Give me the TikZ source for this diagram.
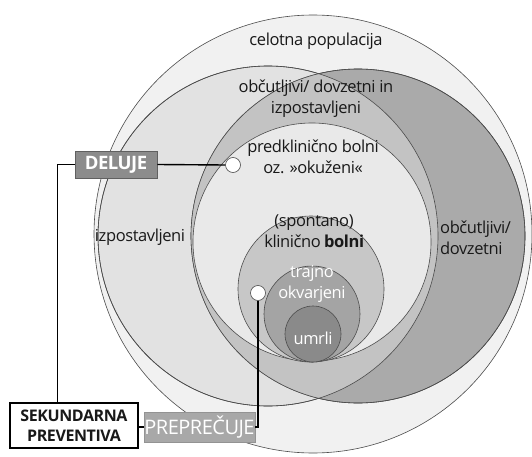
\documentclass[tikz,border=0pt]{standalone}
\usepackage{fontspec}
\setmainfont{Open Sans}[LetterSpace=-2.5]
\definecolor{popfill}{gray}{0.945}
\definecolor{izpfill}{gray}{0.885}
\definecolor{obcfill}{gray}{0.665}
\definecolor{lensfill}{gray}{0.765}
\definecolor{predfill}{gray}{0.915}
\definecolor{klinfill}{gray}{0.78}
\definecolor{trajfill}{gray}{0.645}
\definecolor{umrfill}{gray}{0.54}
\definecolor{edge}{gray}{0.3}
\definecolor{txt}{gray}{0.1}
\definecolor{delfill}{gray}{0.55}
\definecolor{prepfill}{gray}{0.66}
\tikzset{
  ring/.style={draw=edge, line width=0.6pt},
  lbl/.style={text=txt, font=\fontsize{16.5}{21}\selectfont, align=center, inner sep=0pt},
  wlbl/.style={lbl, text=white},
  dot/.style={circle, draw=edge, fill=white, line width=0.6pt, minimum size=15pt, inner sep=0pt},
  conn/.style={draw=black, line width=1.4pt},
  tagbox/.style={line width=0.8pt, text=white, font=\fontsize{18.5}{20}\selectfont\bfseries, inner sep=0pt},
}
\begin{document}
\begin{tikzpicture}[x=1pt,y=-1pt]
\useasboundingbox (0,0) rectangle (532,457);
\fill[white] (0,0) rectangle (532,457);

% circle centres
\coordinate (cA) at (313,234);
\coordinate (cB) at (268,236);
\coordinate (cC) at (358,236);
\coordinate (cD) at (312,242);
\coordinate (cE) at (311,289);
\coordinate (cF) at (312,314);
\coordinate (cG) at (313,334);

% whole population
\filldraw[ring, fill=popfill] (cA) circle[radius=219pt];
% exposed (left) and susceptible (right)
\filldraw[ring, fill=izpfill] (cB) circle[radius=170pt];
\filldraw[ring, fill=obcfill] (cC) circle[radius=167pt];
% overlap: susceptible and exposed
\begin{scope}
  \clip (cB) circle[radius=170pt];
  \fill[lensfill] (cC) circle[radius=167pt];
\end{scope}
\draw[ring] (cB) circle[radius=170pt];
\draw[ring] (cC) circle[radius=167pt];
% nested disease stages
\filldraw[ring, fill=predfill] (cD) circle[radius=119pt];
\filldraw[ring, fill=klinfill] (cE) circle[radius=73pt];
\filldraw[ring, fill=trajfill] (cF) circle[radius=48pt];
\filldraw[ring, fill=umrfill] (cG) circle[radius=28pt];

% labels
\node[lbl] (tpop) at (316,41) {celotna populacija};
\node[lbl] (tlens) at (316,99) {občutljivi/ dovzetni in\\izpostavljeni};
\node[lbl] (tpred) at (313,157) {predklinično bolni\\oz. »okuženi«};
\node[lbl] (tizp) at (140,237) {izpostavljeni};
\node[lbl, align=left, anchor=west] (tobc) at (440,238) {občutljivi/\\dovzetni};
\node[lbl] (tklin) at (314,231) {(spontano)\\klinično \textbf{bolni}};
\node[wlbl] (ttraj) at (312,284) {trajno\\okvarjeni};
\node[wlbl] (tumr) at (313,338) {umrli};

% markers
\node[dot] (dot1) at (233,165) {};
\node[dot] (dot2) at (258,293) {};

% boxes
\node[tagbox, fill=delfill, draw=gray!75!black, minimum width=82pt, minimum height=27pt] (deluje) at (116,164.5) {DELUJE};
\node[draw=black, line width=1.4pt, fill=white, text=txt, font=\fontsize{16}{20}\selectfont\bfseries, align=center, minimum width=128pt, minimum height=45pt, inner sep=0pt] (sek) at (74,425.5) {SEKUNDARNA\\PREVENTIVA};
\node[tagbox, fill=prepfill, draw=gray!85, font=\fontsize{20}{22}\selectfont, minimum width=111pt, minimum height=30pt] (prep) at (199.5,427) {PREPREČUJE};

% connectors
\draw[conn] (deluje.east) -- (dot1.west);
\draw[conn] (deluje.west) -| ([xshift=48pt]sek.north west);
\draw[conn] (prep.west -| sek.east) -- (prep.west);
\draw[conn] (prep.east) -| (dot2.south);
\end{tikzpicture}
\end{document}
